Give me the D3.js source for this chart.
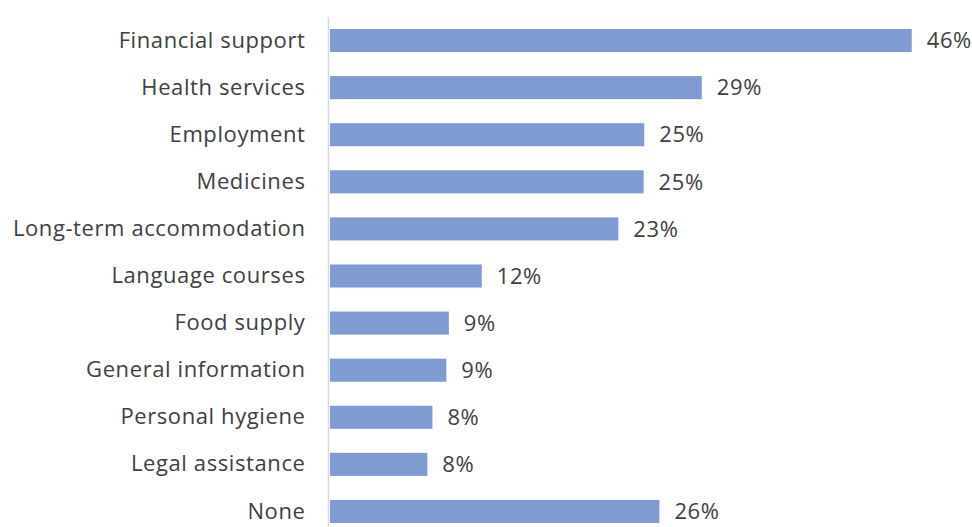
<!DOCTYPE html>
<html>
<head>
<meta charset="utf-8">
<script src="https://cdn.jsdelivr.net/npm/d3@7"></script>
<style>
  body { margin: 0; background: #fff; }
  text { font-family: "Open Sans", sans-serif; fill: #404040; letter-spacing: 0.6px; }
</style>
</head>
<body>
<svg width="972" height="527"></svg>
<script>
const categories = ["Financial support", "Health services", "Employment", "Medicines",
  "Long-term accommodation", "Language courses", "Food supply", "General information",
  "Personal hygiene", "Legal assistance", "None"];
const values = [46, 29.4, 24.85, 24.8, 22.8, 12.0, 9.4, 9.2, 8.1, 7.7, 26.05];
const valueLabels = ["46%", "29%", "25%", "25%", "23%", "12%", "9%", "9%", "8%", "8%", "26%"];

const svg = d3.select("svg");

const x = d3.scaleLinear().domain([0, 50]).range([330, 962.3]);
const y = d3.scaleBand()
  .domain(categories)
  .range([17, 535])
  .paddingInner(0.51)
  .paddingOuter(0.255);

const rows = categories.map((c, i) => ({ cat: c, v: values[i], label: valueLabels[i] }));

svg.append("g")
  .selectAll("rect")
  .data(rows)
  .join("rect")
  .attr("x", x(0))
  .attr("y", d => y(d.cat))
  .attr("width", d => x(d.v) - x(0))
  .attr("height", y.bandwidth())
  .attr("fill", "#7f9bd2");

// category axis
const axis = svg.append("g")
  .attr("transform", `translate(${x(0) - 1.5},0)`)
  .call(d3.axisLeft(y).tickSize(0).tickPadding(23));
axis.select(".domain").attr("stroke", "#d9d9d9").attr("stroke-width", 1.5)
  .attr("d", "M0,17V527");
axis.selectAll("text").style("font-size", "22px").attr("fill", "#404040")
  .style("font-family", "'Open Sans', sans-serif");

svg.append("g")
  .selectAll("text")
  .data(rows)
  .join("text")
  .attr("x", d => x(d.v) + 15)
  .attr("y", d => y(d.cat) + y.bandwidth() / 2)
  .attr("dy", "0.35em")
  .style("font-size", "22px")
  .text(d => d.label);
</script>
</body>
</html>
